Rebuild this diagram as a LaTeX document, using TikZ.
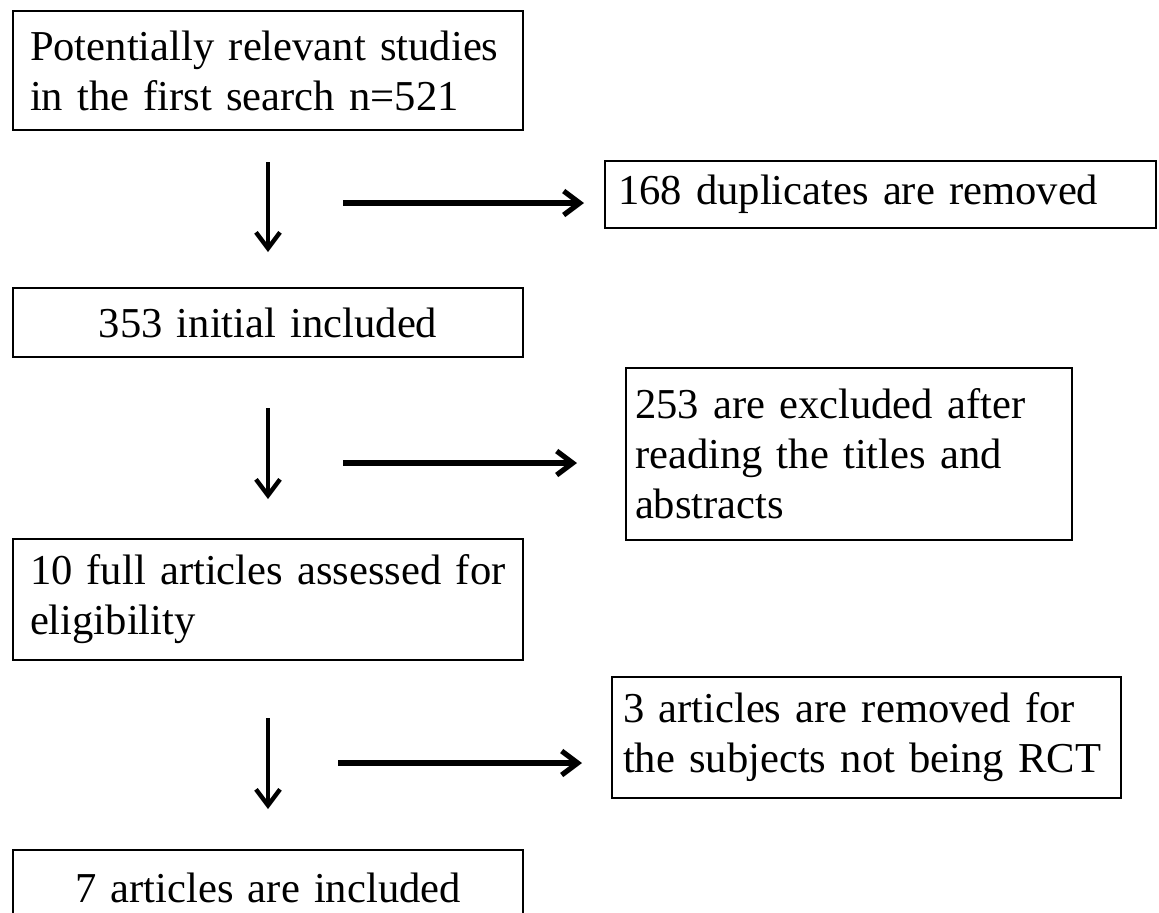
\documentclass[tikz,border=0pt]{standalone}
\usepackage{fontspec}
\setmainfont{Liberation Serif}
\usetikzlibrary{arrows.meta}

\begin{document}
\begin{tikzpicture}[x=0.5pt,y=-0.5pt,
  box/.style={draw,line width=1pt,inner ysep=0pt,font=\fontsize{21.3}{25}\selectfont},
  down/.style={line width=2.2pt,-{Straight Barb[length=8pt,width=12pt,line width=2.2pt]}},
  side/.style={line width=3pt,-{Straight Barb[length=8pt,width=12pt,line width=2.6pt]}}]
  \useasboundingbox (0,0) rectangle (1159,912);
  \node[box,inner xsep=8.5pt,text width=238pt,minimum height=59.5pt,align=left] (b1) at (268,70.5)
    {Potentially relevant studies\\in the first search n=521};
  \node[box,inner xsep=6.5pt,text width=262.5pt,minimum height=33.5pt,align=left] (b2) at (880.5,194.5)
    {168 duplicates are removed};
  \node[box,inner xsep=8.5pt,text width=238pt,minimum height=34.5pt,align=center] (b3) at (268,322.5)
    {353 initial included};
  \node[box,inner xsep=4.5pt,text width=214pt,minimum height=86pt,align=left] (b4) at (849,454)
    {253 are excluded after\\reading the titles and\\abstracts};
  \node[box,inner xsep=8.5pt,text width=238pt,minimum height=60.5pt,align=left] (b5) at (268,599.5)
    {10 full articles assessed for\\eligibility};
  \node[box,inner xsep=5.5pt,text width=243.5pt,minimum height=60.5pt,align=left] (b6) at (866.5,737.5)
    {3 articles are removed for\\the subjects not being RCT};
  \node[box,inner xsep=8.5pt,text width=238pt,minimum height=37.5pt,align=center] (b7) at (268,887.5)
    {7 articles are included};

  \draw[down,shorten <=15.5pt,shorten >=17.5pt] (b1.south) -- (b3.north);
  \draw[down,shorten <=25pt,shorten >=19.5pt] (b3.south) -- (b5.north);
  \draw[down,shorten <=28.5pt,shorten >=20pt] (b5.south) -- (b7.north);

  \coordinate (h1) at (343,203);
  \coordinate (h2) at (343,463);
  \coordinate (h3) at (338,763);
  \draw[side,shorten >=10pt] (h1) -- (h1 -| b2.west);
  \draw[side,shorten >=24pt] (h2) -- (h2 -| b4.west);
  \draw[side,shorten >=14.5pt] (h3) -- (h3 -| b6.west);
\end{tikzpicture}
\end{document}
